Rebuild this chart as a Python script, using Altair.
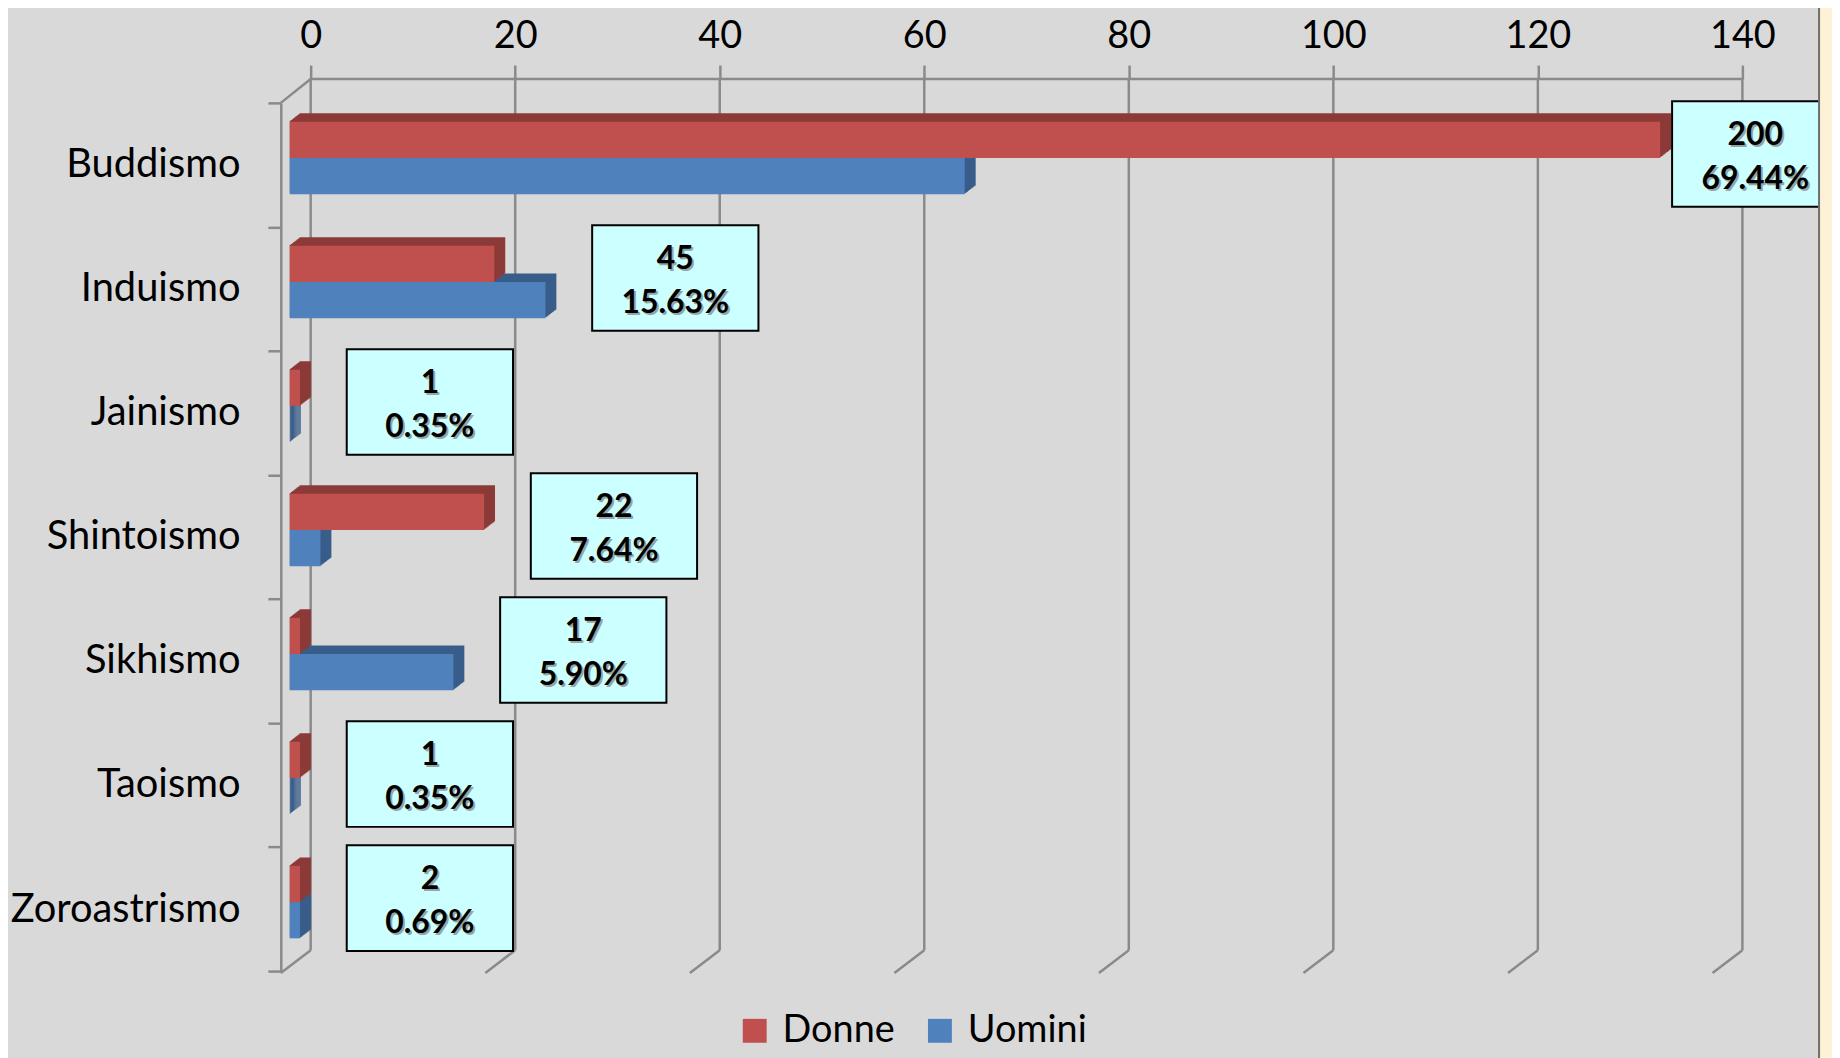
import altair as alt
import pandas as pd
from decimal import Decimal, ROUND_HALF_UP

# ---- data ----
categories = ["Buddismo", "Induismo", "Jainismo", "Shintoismo", "Sikhismo", "Taoismo", "Zoroastrismo"]
donne = [134, 20, 1, 19, 1, 1, 1]
uomini = [66, 25, 0, 3, 16, 0, 1]
series_names = ["Donne", "Uomini"]
x_ticks = [0, 20, 40, 60, 80, 100, 120, 140]

# ---- derived tables ----
rows = []
for c, d, u in zip(categories, donne, uomini):
    rows.append({"cat": c, "series": "Donne", "value": d})
    rows.append({"cat": c, "series": "Uomini", "value": u})
bars = pd.DataFrame(rows)

totals = [d + u for d, u in zip(donne, uomini)]
grand = sum(totals)


def pct(t):
    v = Decimal(t) * Decimal(100) / Decimal(grand)
    return f"{v.quantize(Decimal('0.01'), rounding=ROUND_HALF_UP)}%"


labels = pd.DataFrame({
    "cat": categories,
    "total": [str(t) for t in totals],
    "pct": [pct(t) for t in totals],
    "maxv": [max(d, u) for d, u in zip(donne, uomini)],
})
ticks = pd.DataFrame({"t": x_ticks})
one = pd.DataFrame({"k": [0]})

# ---- style ----
FONT = "Lato"
RED, RED_D = "#C0504D", "#8C3A38"
BLUE, BLUE_D = "#4F81BD", "#385D8A"
GRID = "#8A8A8A"
W, H = 1438, 872
BAR_H = 36.4
BASE = {"Donne": -7 - BAR_H / 2, "Uomini": -7 + BAR_H / 2}
DX, DY, NSTEP = 11.0, 8.5, 10
BACK, FRONT = 21, -9          # 3D depth offsets of the back wall and the floor front
TOP_BACK, BOT_BACK, BOT_FRONT = -24, 851, 874

xscale = alt.Scale(domain=[0, 140], nice=False, zero=True)
yscale = alt.Scale(domain=categories, paddingInner=0, paddingOuter=0)

X_AXIS = alt.Axis(orient="top", values=x_ticks, format="d", offset=24, tickOffset=BACK,
                  tickSize=14, tickWidth=2.5, tickColor=GRID, domain=False, grid=False,
                  labelFont=FONT, labelFontSize=38, labelColor="#000000",
                  labelBaseline="alphabetic", labelPadding=18, labelFlush=False,
                  labelOverlap=False, title=None)
Y_AXIS = alt.Axis(orient="left", offset=9, tickBand="extent", tickSize=13, tickWidth=2.5,
                  tickColor=GRID, domainColor=GRID, domainWidth=2.5, grid=False,
                  labelFont=FONT, labelFontSize=40, labelColor="#000000",
                  labelPadding=28, labelLimit=500, title=None)


def X(field=None, **kw):
    if field is None:
        return alt.X(scale=xscale, axis=X_AXIS, **kw)
    return alt.X(field, scale=xscale, axis=X_AXIS, **kw)


def Y():
    return alt.Y("cat:N", scale=yscale, sort=categories, axis=Y_AXIS)


base = alt.Chart(bars)

# grid lines on the back wall + slanted floor lines
grid_back = alt.Chart(ticks).mark_rule(color=GRID, strokeWidth=2.5, xOffset=BACK, x2Offset=BACK).encode(
    x=X("t:Q"), x2="t:Q", y=alt.value(TOP_BACK), y2=alt.value(BOT_BACK))
grid_floor = alt.Chart(ticks).mark_rule(color=GRID, strokeWidth=2.5, xOffset=BACK, x2Offset=FRONT).encode(
    x=X("t:Q"), x2="t:Q", y=alt.value(BOT_BACK), y2=alt.value(BOT_FRONT))
top_line = alt.Chart(one).mark_rule(color=GRID, strokeWidth=2.5, xOffset=BACK, x2Offset=BACK).encode(
    x=X(datum=0), x2=alt.X2(datum=140), y=alt.value(TOP_BACK))
wall_slant = alt.Chart(one).mark_rule(color=GRID, strokeWidth=2.5, xOffset=FRONT, x2Offset=BACK).encode(
    x=X(datum=0), x2=alt.X2(datum=0), y=alt.value(0), y2=alt.value(TOP_BACK))

layers = [grid_back, grid_floor, top_line, wall_slant]

# dark top/side faces (stair-stepped parallelograms)
for s, dark in (("Uomini", BLUE_D), ("Donne", RED_D)):
    for k in range(1, NSTEP + 1):
        layers.append(
            base.transform_filter(alt.datum.series == s).mark_bar(
                height=BAR_H, color=dark,
                xOffset=k * DX / NSTEP, x2Offset=(k - 1) * DX / NSTEP,
                yOffset=BASE[s] - k * DY / NSTEP,
            ).encode(x=X("value:Q"), x2=alt.X2(datum=0), y=Y())
        )

# front faces (carry the legend)
color = alt.Color("series:N", scale=alt.Scale(domain=series_names, range=[RED, BLUE]),
                  legend=alt.Legend(orient="none", legendX=448, legendY=913, direction="horizontal",
                                    title=None, symbolType="square", symbolSize=576,
                                    symbolStrokeWidth=0, labelFont=FONT, labelFontSize=38,
                                    labelColor="#000000", labelOffset=9, columnPadding=26,
                                    padding=0, labelLimit=400))
for s in ("Uomini", "Donne"):
    layers.append(
        base.transform_filter(alt.datum.series == s).mark_bar(height=BAR_H, yOffset=BASE[s]).encode(
            x=X("value:Q"), x2=alt.X2(datum=0), y=Y(), color=color)
    )

# data label boxes: placed right of the longer bar, kept inside the plot
LBL_DY = -11
lab = alt.Chart(labels).transform_calculate(lx="min(datum.maxv + 12.7, 143.3)")
box = lab.mark_point(shape="M-1,-0.635H1V0.635H-1Z", size=167 * 167, filled=True,
                     fill="#CCFFFF", stroke="#000000", strokeWidth=2, opacity=1,
                     yOffset=LBL_DY).encode(x=X("lx:Q"), y=Y())
layers.append(box)
for field, dy in (("total", LBL_DY - 19), ("pct", LBL_DY + 25)):
    for col, off, op in (("#7F7F7F", 2, 0.7), ("#000000", 0, 1)):
        layers.append(
            lab.mark_text(font=FONT, fontSize=32, fontWeight="bold", color=col, opacity=op,
                          baseline="middle", align="center",
                          dx=off, dy=dy + off).encode(
                x=X("lx:Q"), y=Y(), text=f"{field}:N")
        )

# slide border strip on the right
strip = alt.Chart(one).mark_rect(fill="#FDF1D6", stroke="#6E6E6E", strokeWidth=2).encode(
    x=alt.value(1536), x2=alt.value(1620), y=alt.value(-120), y2=alt.value(1000))
layers.append(strip)

chart = alt.layer(*layers).properties(
    width=W, height=H,
    autosize=alt.AutoSizeParams(type="none"),
    padding={"left": 283, "top": 93, "right": 111, "bottom": 85},
    background="#D9D9D9",
).configure_view(stroke=None)

chart.save("out.html", embed_options={"renderer": "svg", "actions": False})
